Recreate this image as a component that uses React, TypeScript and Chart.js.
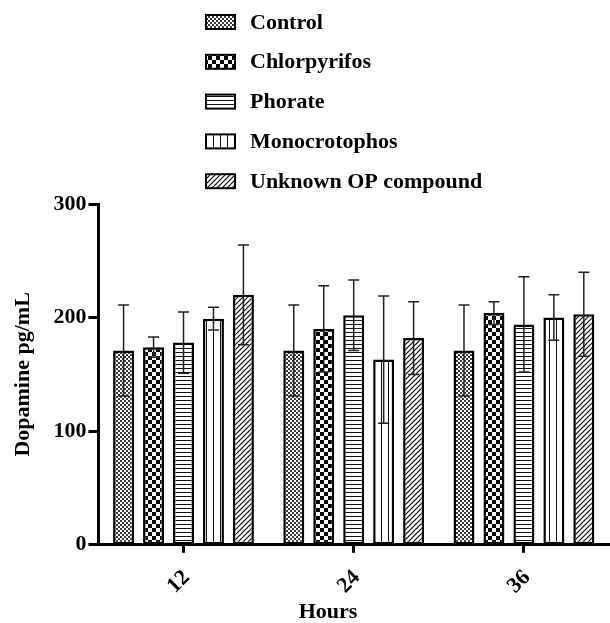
import React, { useEffect, useRef } from 'react';
import { Chart, registerables } from 'chart.js';

Chart.register(...registerables);

// ---- data ----
const categories = ['12', '24', '36'];
const seriesNames = ['Control', 'Chlorpyrifos', 'Phorate', 'Monocrotophos', 'Unknown OP compound'];
const control = [171, 171, 171];
const controlErr = [40, 40, 40];
const chlorpyrifos = [174, 190, 204];
const chlorpyrifosErr = [9, 38, 10];
const phorate = [178, 202, 194];
const phorateErr = [27, 31, 42];
const monocrotophos = [199, 163, 200];
const monocrotophosErr = [10, 56, 20];
const unknownOP = [220, 182, 203];
const unknownOPErr = [44, 32, 37];
const yTicks = [0, 100, 200, 300];
const yTitle = 'Dopamine pg/mL';
const xTitle = 'Hours';

const FONT = '"Liberation Serif", "Times New Roman", serif';

function makeTile(w: number, h: number, draw: (g: CanvasRenderingContext2D) => void) {
  const c = document.createElement('canvas');
  c.width = w;
  c.height = h;
  const g = c.getContext('2d')!;
  g.fillStyle = '#fff';
  g.fillRect(0, 0, w, h);
  g.fillStyle = '#000';
  g.strokeStyle = '#000';
  draw(g);
  return c;
}

function makePatterns(ctx: CanvasRenderingContext2D) {
  const fine = makeTile(4, 4, (g) => {
    g.fillStyle = '#3a3a3a';
    g.fillRect(0, 0, 2, 2);
    g.fillRect(2, 2, 2, 2);
  });
  const checker = makeTile(8, 8, (g) => {
    g.fillRect(0, 0, 4, 4);
    g.fillRect(4, 4, 4, 4);
  });
  const horiz = makeTile(4, 4, (g) => {
    g.fillStyle = '#111';
    g.fillRect(0, 0, 4, 1);
  });
  const vert = makeTile(7, 4, (g) => {
    g.fillStyle = '#111';
    g.fillRect(3, 0, 1, 4);
  });
  const diag = makeTile(5, 5, (g) => {
    g.lineWidth = 1.1;
    g.beginPath();
    g.moveTo(0, 5); g.lineTo(5, 0);
    g.moveTo(-1, 1); g.lineTo(1, -1);
    g.moveTo(4, 6); g.lineTo(6, 4);
    g.stroke();
  });
  return [fine, checker, horiz, vert, diag].map((t) => ctx.createPattern(t, 'repeat'));
}

const errorBarPlugin = {
  id: 'errorBars',
  afterDatasetsDraw(chart: any) {
    const ctx = chart.ctx;
    const yScale = chart.scales.y;
    ctx.save();
    ctx.strokeStyle = '#222';
    ctx.lineWidth = 1.5;
    chart.data.datasets.forEach((ds: any, di: number) => {
      const meta = chart.getDatasetMeta(di);
      meta.data.forEach((el: any, i: number) => {
        const v = ds.data[i];
        const e = ds.errors[i];
        const yTop = yScale.getPixelForValue(v + e);
        const yBot = yScale.getPixelForValue(v - e);
        const x = el.x;
        ctx.beginPath();
        ctx.moveTo(x, yTop);
        ctx.lineTo(x, yBot);
        ctx.moveTo(x - 5.5, yTop);
        ctx.lineTo(x + 5.5, yTop);
        ctx.moveTo(x - 5.5, yBot);
        ctx.lineTo(x + 5.5, yBot);
        ctx.stroke();
      });
    });
    ctx.restore();
  },
};

const legendPlugin = {
  id: 'stackedLegend',
  afterDraw(chart: any) {
    const ctx = chart.ctx;
    ctx.save();
    chart.data.datasets.forEach((ds: any, i: number) => {
      const cy = 22 + i * 39.8;
      const bx = 206;
      const bw = 29;
      const bh = 14;
      ctx.fillStyle = ds.backgroundColor;
      ctx.fillRect(bx, cy - bh / 2, bw, bh);
      ctx.lineWidth = 2;
      ctx.strokeStyle = '#000';
      ctx.strokeRect(bx, cy - bh / 2, bw, bh);
      ctx.fillStyle = '#000';
      ctx.font = `bold 22px ${FONT}`;
      ctx.textBaseline = 'middle';
      ctx.textAlign = 'left';
      ctx.fillText(ds.label, 250, cy + 1);
    });
    ctx.restore();
  },
};

const xTitlePlugin = {
  id: 'xTitle',
  afterDraw(chart: any) {
    const ctx = chart.ctx;
    ctx.save();
    ctx.fillStyle = '#000';
    ctx.font = `bold 22px ${FONT}`;
    ctx.textAlign = 'center';
    ctx.textBaseline = 'middle';
    ctx.fillText(xTitle, 328, 612);
    ctx.restore();
  },
};

export default function App() {
  const ref = useRef<HTMLCanvasElement | null>(null);

  useEffect(() => {
    document.body.style.margin = '0';
    const canvas = ref.current!;
    const ctx = canvas.getContext('2d')!;
    const patterns = makePatterns(ctx);
    const values = [control, chlorpyrifos, phorate, monocrotophos, unknownOP];
    const errors = [controlErr, chlorpyrifosErr, phorateErr, monocrotophosErr, unknownOPErr];

    const chart = new Chart(canvas, {
      type: 'bar',
      data: {
        labels: categories,
        datasets: seriesNames.map((name, i) => ({
          label: name,
          data: values[i],
          errors: errors[i],
          backgroundColor: patterns[i],
          borderColor: '#000',
          borderWidth: 2.5,
          borderSkipped: false,
          categoryPercentage: 0.88,
          barPercentage: 0.7,
        })) as any,
      },
      options: {
        responsive: false,
        animation: false,
        events: [],
        layout: { padding: { top: 204, left: 10, right: 1, bottom: 12 } },
        plugins: {
          legend: { display: false },
          tooltip: { enabled: false },
        },
        scales: {
          x: {
            offset: true,
            grid: {
              display: true,
              drawOnChartArea: false,
              drawTicks: true,
              tickLength: 8,
              tickWidth: 3,
              tickColor: '#000',
              offset: false,
            },
            border: { display: true, color: '#000', width: 3 },
            ticks: {
              color: '#000',
              font: { family: FONT, size: 22, weight: 'bold' },
              minRotation: 45,
              maxRotation: 45,
              padding: 12,
              labelOffset: 3,
            },
          },
          y: {
            min: 0,
            max: 300,
            afterBuildTicks: (axis: any) => {
              axis.ticks = yTicks.map((v) => ({ value: v }));
            },
            grid: {
              drawOnChartArea: false,
              drawTicks: true,
              tickLength: 10,
              tickWidth: 3,
              tickColor: '#000',
            },
            border: { display: true, color: '#000', width: 3 },
            ticks: {
              color: '#000',
              font: { family: FONT, size: 22, weight: 'bold' },
              padding: 2,
            },
            title: {
              display: true,
              text: yTitle,
              color: '#000',
              font: { family: FONT, size: 22, weight: 'bold' },
              padding: { top: 0, bottom: 15 },
            },
          },
        },
      } as any,
      plugins: [errorBarPlugin, legendPlugin, xTitlePlugin],
    });

    return () => chart.destroy();
  }, []);

  return (
    <div style={{ width: 610, height: 623 }}>
      <canvas ref={ref} width={610} height={623} style={{ display: 'block' }} />
    </div>
  );
}
